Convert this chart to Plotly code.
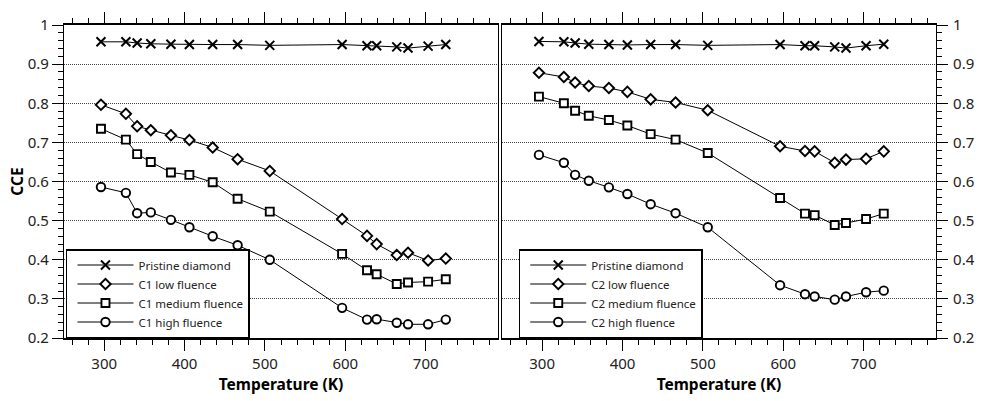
import plotly.graph_objects as go

# ---- data ----
temperature_K = [296, 327, 341, 358, 383, 406, 435, 466, 506, 596, 627, 639, 664, 678, 703, 725]

pristine_c1 = [0.957, 0.957, 0.954, 0.952, 0.951, 0.950, 0.950, 0.950, 0.948, 0.950, 0.947, 0.947, 0.944, 0.941, 0.946, 0.950]
c1_low = [0.796, 0.773, 0.741, 0.731, 0.718, 0.706, 0.687, 0.657, 0.627, 0.504, 0.461, 0.440, 0.412, 0.418, 0.398, 0.403]
c1_medium = [0.735, 0.707, 0.670, 0.650, 0.623, 0.617, 0.598, 0.556, 0.523, 0.415, 0.373, 0.363, 0.338, 0.342, 0.344, 0.350]
c1_high = [0.586, 0.571, 0.519, 0.521, 0.502, 0.483, 0.460, 0.437, 0.400, 0.277, 0.247, 0.248, 0.239, 0.235, 0.235, 0.247]

pristine_c2 = [0.958, 0.957, 0.954, 0.951, 0.950, 0.949, 0.950, 0.950, 0.948, 0.950, 0.947, 0.947, 0.944, 0.941, 0.947, 0.951]
c2_low = [0.878, 0.867, 0.853, 0.844, 0.839, 0.829, 0.810, 0.802, 0.782, 0.690, 0.678, 0.677, 0.648, 0.656, 0.658, 0.677]
c2_medium = [0.817, 0.800, 0.781, 0.768, 0.757, 0.743, 0.721, 0.707, 0.673, 0.558, 0.518, 0.514, 0.489, 0.494, 0.504, 0.518]
c2_high = [0.668, 0.648, 0.617, 0.602, 0.585, 0.568, 0.542, 0.519, 0.483, 0.335, 0.312, 0.306, 0.298, 0.306, 0.317, 0.321]

left_names = ["Pristine diamond", "C1 low fluence", "C1 medium fluence", "C1 high fluence"]
right_names = ["Pristine diamond", "C2 low fluence", "C2 medium fluence", "C2 high fluence"]

# ---- styling ----
FONT = "Noto Sans"
symbols = [("x-thin", 9, 2.0), ("diamond", 8, 1.9), ("square", 8, 1.9), ("circle", 8.5, 1.9)]

fig = go.Figure()

def add_series(xs, ys, name, sym, xa, ya, legend):
    s, size, lw = sym
    fig.add_trace(go.Scatter(
        x=xs, y=ys, name=name, mode="lines+markers",
        line=dict(color="black", width=1),
        marker=dict(symbol=s, size=size, color="white",
                    line=dict(color="black", width=lw)),
        xaxis=xa, yaxis=ya, legend=legend, cliponaxis=False,
    ))

for ys, nm, sym in zip([pristine_c1, c1_low, c1_medium, c1_high], left_names, symbols):
    add_series(temperature_K, ys, nm, sym, "x", "y", "legend")
for ys, nm, sym in zip([pristine_c2, c2_low, c2_medium, c2_high], right_names, symbols):
    add_series(temperature_K, ys, nm, sym, "x2", "y2", "legend2")

tickfont = dict(family=FONT, size=15, color="#222")
titlefont = dict(family=FONT, size=15.5, color="black", weight="bold")
legfont = dict(family=FONT, size=11.5, color="#222")

xcommon = dict(
    range=[250, 790], dtick=100, showline=True, linecolor="black", linewidth=1.5,
    mirror="ticks", ticks="outside", ticklen=11, tickwidth=1, tickcolor="black",
    minor=dict(dtick=20, ticks="outside", ticklen=5, tickcolor="black", tickwidth=1),
    showgrid=False, zeroline=False, tickfont=tickfont,
    title=dict(text="Temperature (K)", font=titlefont, standoff=5),
)
ycommon = dict(
    range=[0.2, 1.0], dtick=0.1, showline=True, linecolor="black", linewidth=1.2,
    mirror=True, ticks="outside", ticklen=11, tickwidth=1, tickcolor="black",
    minor=dict(dtick=0.02, ticks="outside", ticklen=5, tickcolor="black", tickwidth=1),
    showgrid=True, gridcolor="#444", gridwidth=1, griddash="1px,1px",
    zeroline=False, tickfont=tickfont,
)
yinner = dict(
    range=[0.2, 1.0], dtick=0.1, showline=False, showgrid=False, zeroline=False,
    ticks="inside", ticklen=10, tickwidth=1, tickcolor="black", showticklabels=False,
    minor=dict(dtick=0.02, ticks="inside", ticklen=5, tickcolor="black", tickwidth=1),
)

W, H = 987, 401
ml, mr, mt, mb = 64, 39, 24, 58
pw = W - ml - mr
split_l = (504 - ml) / pw
split_r = (508 - ml) / pw

legcommon = dict(y=0.0, xanchor="left", yanchor="bottom", xref="paper", yref="paper",
                 bgcolor="white", bordercolor="black", borderwidth=1.5,
                 font=legfont, itemwidth=56, indentation=5, tracegroupgap=0)

fig.update_layout(
    width=W, height=H,
    margin=dict(l=ml, r=mr, t=mt, b=mb),
    paper_bgcolor="white", plot_bgcolor="white",
    font=dict(family=FONT, color="black"),
    xaxis=dict(domain=[0, split_l], anchor="y", **xcommon),
    xaxis2=dict(domain=[split_r, 1], anchor="y2", **xcommon),
    yaxis=dict(anchor="x", side="left",
               title=dict(text="CCE", font=titlefont, standoff=0), **ycommon),
    yaxis2=dict(anchor="x2", side="right", ticklabelstandoff=2, **ycommon),
    yaxis3=dict(anchor="x", overlaying="y", side="right", **yinner),
    yaxis4=dict(anchor="x2", overlaying="y2", side="left", **yinner),
    legend=dict(x=(66 - ml) / pw, **legcommon),
    legend2=dict(x=(525 - ml) / pw, **legcommon),
    showlegend=True,
)

page_fix = (
    "document.documentElement.style.margin='0';"
    "document.documentElement.style.padding='0';"
    "document.documentElement.style.overflow='hidden';"
    "document.body.style.margin='0';"
    "document.body.style.padding='0';"
    "document.body.style.overflow='hidden';"
)
fig.write_html("out.html", config={"displayModeBar": False}, post_script=page_fix)
